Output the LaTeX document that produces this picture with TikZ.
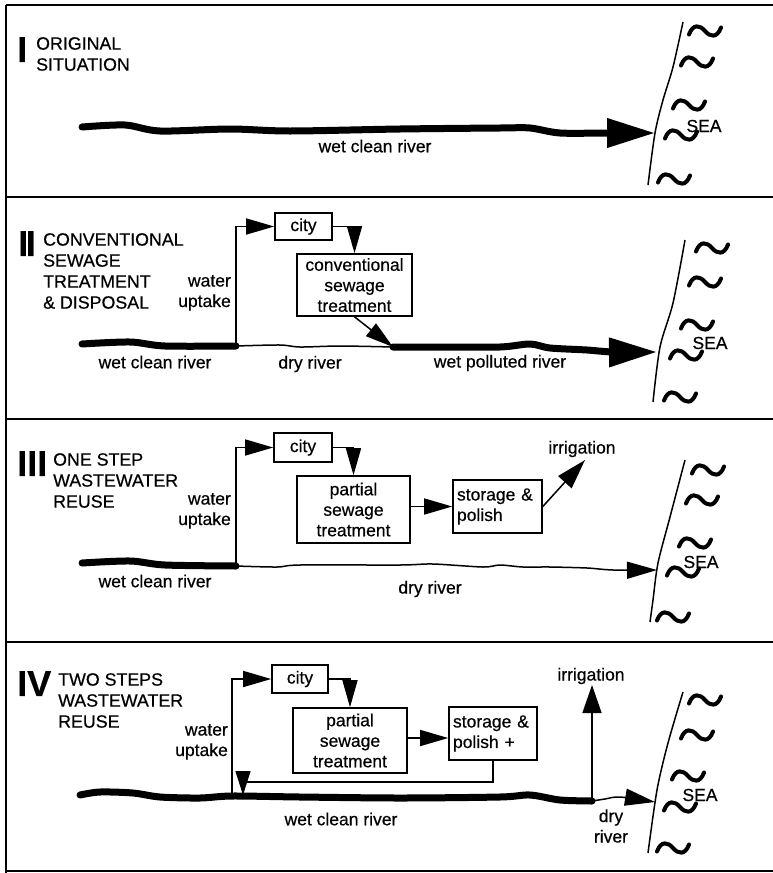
\documentclass[tikz,border=0pt]{standalone}
\usepackage{fontspec}
\setmainfont{Liberation Sans}[FakeBold=0.5]
\usetikzlibrary{arrows.meta}
\begin{document}
\begin{tikzpicture}[x=1pt,y=-1pt,
  every node/.style={font=\fontsize{17.5}{20.5}\selectfont, inner sep=0pt},
  frameline/.style={line width=1.6pt},
  thinline/.style={line width=1.5pt},
  river/.style={line width=7pt, line cap=round},
  box/.style={draw, line width=1.6pt, align=center},
  storebox/.style={draw, line width=1.6pt, align=left, inner xsep=4pt, minimum height=53pt},
  numeral/.style={font=\fontsize{36}{36}\selectfont\bfseries, anchor=north west},
  titletext/.style={align=left, anchor=north west, font=\fontsize{17.8}{21}\selectfont},
  uptake/.style={align=right, anchor=north east},
  tip/.style={-{Triangle[length=28pt,width=16pt]}},
  downtip/.style={-{Triangle[length=27pt,width=15pt]}},
  bigtip/.style={-{Triangle[length=48pt,width=28pt]}},
  drytip/.style={-{Triangle[length=30pt,width=17pt]}},
  shore/.style={line width=1.5pt},
  seawave/.pic={\draw[line width=4pt,line cap=round] (-16,3.5) .. controls (-12,-7.5) and (-5,-6) .. (0,0) .. controls (5,6) and (12,7.5) .. (16,-3.5);},
]
\useasboundingbox (0,0) rectangle (773,873);
\fill[white] (0,0) rectangle (773,873);
% frames
\draw[frameline] (6,5) -- (773,5);
\draw[frameline] (6,197) -- (773,197);
\draw[frameline] (6,419) -- (773,419);
\draw[frameline] (6,642) -- (773,642);
\draw[frameline] (6,871) -- (773,871);
\draw[frameline] (6,5) -- (6,873);

% ---------------- Panel I ----------------
\node[numeral] (n1) at (17,37) {I};
\node[titletext] (t1) at (36,37) {ORIGINAL\\SITUATION};
\coordinate (r1s) at (82,127);
\coordinate (r1e) at (655,133);
\draw[river,bigtip] plot[smooth,tension=0.5] coordinates {(r1s) (125,125) (160,131) (230,129) (290,131) (400,129) (500,128) (530,128) (560,133) (607,133) (r1e)};
\node (l1) at (375,146) {wet clean river};
\draw[shore] plot[smooth] coordinates {(683,22) (673,67) (663,100) (655,133) (648,185)};
\foreach \p in {(705,31),(697,62),(689,105),(681,135),(674,179)} \pic at \p {seawave};
\node (sea1) at (704,126) {SEA};

% ---------------- Panel II ----------------
\node[numeral] (n2) at (18,231) {I\kern-2.5pt I};
\node[titletext] (t2) at (43,233) {CONVENTIONAL\\SEWAGE\\TREATMENT\\\& DISPOSAL};
\node[box, minimum width=57pt, minimum height=27pt] (city2) at (303.5,226.5) {city};
\node[box, minimum width=115pt, minimum height=62pt] (conv2) at (354.5,285) {conventional\\sewage\\treatment};
\node[uptake] (w2) at (231,275) {water\\uptake};
\coordinate (r2s) at (82,344);
\coordinate (u2) at (236,346);
\coordinate (j2) at (393,347);
\coordinate (r2e) at (657,352);
\draw[river] plot[smooth,tension=0.5] coordinates {(r2s) (130,342) (165,346) (u2)};
\draw[thinline] plot[smooth,tension=0.5] coordinates {(u2) (280,345) (300,347) (340,346) (j2)};
\draw[river,bigtip] plot[smooth,tension=0.5] coordinates {(j2) (440,347) (500,347) (530,344) (550,348) (587,350) (613,352) (r2e)};
\draw[thinline,tip] (u2) |- (city2.west);
\draw[thinline,downtip] (city2.east) -| (conv2.north);
\draw[thinline,tip] (conv2.south) -- (j2);
\node (l2a) at (155,362) {wet clean river};
\node (l2b) at (310,364) {dry river};
\node (l2c) at (500,363) {wet polluted river};
\draw[shore] plot[smooth] coordinates {(685,240) (673,303) (660,347) (653,402)};
\foreach \p in {(712,248),(705,282),(697,325),(686,355),(680,397)} \pic at \p {seawave};
\node (sea2) at (710,343) {SEA};

% ---------------- Panel III ----------------
\node[numeral] (n3) at (17,451) {III};
\node[titletext] (t3) at (53,453) {ONE STEP\\WASTEWATER\\REUSE};
\node[box, minimum width=58pt, minimum height=29pt] (city3) at (303,447.5) {city};
\node[box, minimum width=113pt, minimum height=67pt] (partial3) at (353.5,509.5) {partial\\sewage\\treatment};
\node[storebox, text width=81pt] (storage3) at (497.5,506.5) {storage \&\\polish};
\node[uptake] (w3) at (231,493) {water\\uptake};
\coordinate (r3s) at (82,563);
\coordinate (u3) at (236,566);
\coordinate (r3e) at (657,570);
\coordinate (irr3) at (585,460);
\draw[river] plot[smooth,tension=0.5] coordinates {(r3s) (130,561) (165,565) (u3)};
\draw[thinline,drytip] plot[smooth,tension=0.5] coordinates {(u3) (277,567) (300,565) (400,565) (433,564) (483,567) (500,565) (523,567) (550,567) (587,568) (613,570) (r3e)};
\draw[thinline,tip] (u3) |- (city3.west);
\draw[thinline,downtip] (city3.east) -| (partial3.north);
\draw[thinline,tip] (partial3.east |- storage3.west) -- (storage3.west);
\draw[thinline,-{Triangle[length=30pt,width=18pt]}] (storage3.east) -- (irr3);
\node (irrl3) at (582,449) {irrigation};
\node (l3a) at (155,581) {wet clean river};
\node (l3b) at (430,589) {dry river};
\draw[shore] plot[smooth] coordinates {(685,460) (670,517) (658,563) (653,600) (650,622)};
\foreach \p in {(708,470),(702,500),(695,543),(683,572),(673,617)} \pic at \p {seawave};
\node (sea3) at (701,562) {SEA};

% ---------------- Panel IV ----------------
\node[numeral] (n4) at (17,671) {IV};
\node[titletext] (t4) at (58,673) {TWO STEPS\\WASTEWATER\\REUSE};
\node[box, minimum width=56pt, minimum height=28pt] (city4) at (300,679) {city};
\node[box, minimum width=114pt, minimum height=65pt] (partial4) at (350,740.5) {partial\\sewage\\treatment};
\node[storebox, text width=80pt] (storage4) at (493,733.5) {storage \&\\polish +};
\node[uptake] (w4) at (228,724) {water\\uptake};
\coordinate (r4s) at (80,795);
\coordinate (u4) at (232,796);
\coordinate (j4) at (592,801);
\coordinate (r4e) at (655,802);
\coordinate (ret4) at (243,795);
\coordinate (a4) at (0,738);
\coordinate (irr4) at (592,685);
\draw[river] plot[smooth,tension=0.5] coordinates {(r4s) (100,792) (133,793) (160,797) (200,798) (u4) (300,797) (400,798) (500,797) (530,795) (560,800) (j4)};
\draw[thinline,drytip] plot[smooth,tension=0.5] coordinates {(j4) (605,799) (620,797) (r4e)};
\draw[thinline,tip] (u4) |- (city4.west);
\draw[thinline,downtip] (city4.east) -| (partial4.north);
\draw[thinline,tip] (partial4.east |- a4) -- (storage4.west |- a4);
\draw[thinline,-{Triangle[length=24pt,width=15pt]}] (storage4.south) -- ++(0,21) -| (ret4);
\draw[thinline,-{Triangle[length=28pt,width=19pt]}] (j4) -- (irr4);
\node (irrl4) at (591,676) {irrigation};
\node (l4a) at (341,819) {wet clean river};
\node[align=center] (l4b) at (611,826) {dry\\river};
\draw[shore] plot[smooth] coordinates {(683,692) (668,743) (657,790) (648,853)};
\foreach \p in {(705,700),(697,735),(688,776),(680,807),(673,848)} \pic at \p {seawave};
\node (sea4) at (700,795) {SEA};
\end{tikzpicture}
\end{document}
